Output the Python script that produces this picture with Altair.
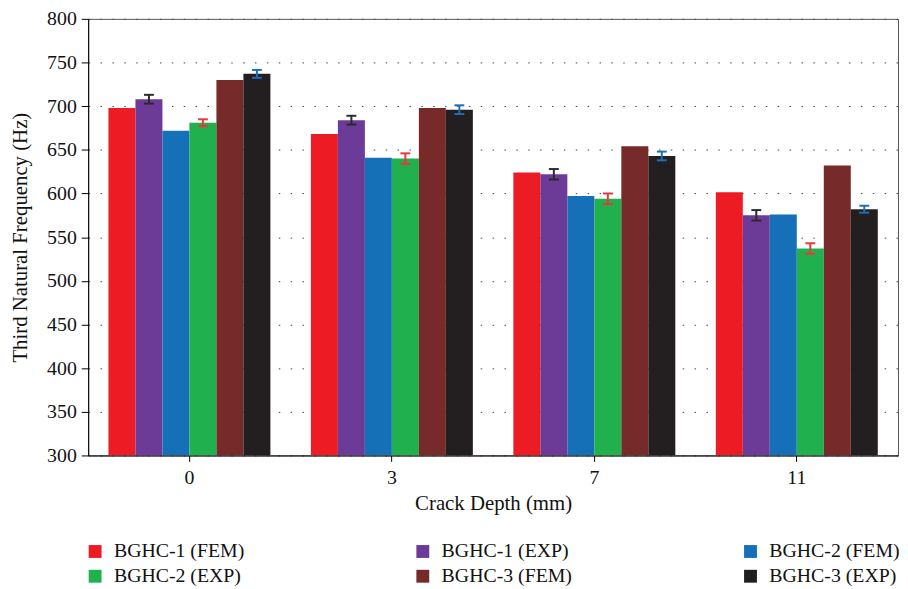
import altair as alt
import pandas as pd

depths = ["0", "3", "7", "11"]
series = ["BGHC-1 (FEM)", "BGHC-1 (EXP)", "BGHC-2 (FEM)",
          "BGHC-2 (EXP)", "BGHC-3 (FEM)", "BGHC-3 (EXP)"]
colors = ["#ed1c24", "#6c3a97", "#1570b8", "#20b14e", "#772a2a", "#231f20"]

bghc1_fem = [698, 668, 624, 601.5]
bghc1_exp = [708, 684, 622, 575]
bghc2_fem = [672, 641, 597, 576]
bghc2_exp = [681, 640, 594, 537]
bghc3_fem = [730, 698, 654, 632]
bghc3_exp = [737, 696, 643, 582]

bghc1_exp_err = [5, 5, 6, 6]
bghc2_exp_err = [4, 6, 6, 6]
bghc3_exp_err = [4.5, 5, 5, 4]
err_colors = ["#2b2b2b", "#e8383d", "#1c6fb8"]

values = [bghc1_fem, bghc1_exp, bghc2_fem, bghc2_exp, bghc3_fem, bghc3_exp]
rows = []
for s, vals in zip(series, values):
    for d, v in zip(depths, vals):
        rows.append({"depth": d, "series": s, "freq": v, "base": 300})
df = pd.DataFrame(rows)

err_series = ["BGHC-1 (EXP)", "BGHC-2 (EXP)", "BGHC-3 (EXP)"]
err_vals = [bghc1_exp, bghc2_exp, bghc3_exp]
err_errs = [bghc1_exp_err, bghc2_exp_err, bghc3_exp_err]
erows = []
for s, vals, errs, c in zip(err_series, err_vals, err_errs, err_colors):
    for d, v, e in zip(depths, vals, errs):
        erows.append({"depth": d, "series": s, "lo": v - e, "hi": v + e, "ecol": c})
edf = pd.DataFrame(erows)

FONT = "Liberation Serif"
FS = 20
TFS = 21

x_enc = alt.X("depth:N", sort=depths,
              scale=alt.Scale(paddingInner=0.2, paddingOuter=0.1),
              axis=alt.Axis(title="Crack Depth (mm)", labelAngle=0, tickSize=6,
                            labelPadding=6, titlePadding=6,
                            domainColor="#000", tickColor="#000", grid=False))
xoff = alt.XOffset("series:N", sort=series,
                   scale=alt.Scale(paddingInner=0, paddingOuter=0))
y_scale = alt.Scale(domain=[300, 800], zero=False, nice=False)

bars = alt.Chart(df).mark_bar(opacity=1, fillOpacity=1, clip=True).encode(
    x=x_enc,
    xOffset=xoff,
    y=alt.Y("freq:Q", scale=y_scale,
            axis=alt.Axis(title="Third Natural Frequency (Hz)",
                          values=list(range(300, 801, 50)),
                          tickSize=7, labelPadding=5, titlePadding=16,
                          domainColor="#000", tickColor="#000",
                          grid=True, gridDash=[1.5, 10.5], gridColor="#444",
                          gridWidth=1)),
    y2="base:Q",
    color=alt.Color("series:N", sort=series,
                    scale=alt.Scale(domain=series, range=colors),
                    legend=alt.Legend(title=None, orient="none", legendX=-3, legendY=528,
                                      direction="horizontal", columns=3,
                                      gridAlign="all", columnPadding=170,
                                      rowPadding=5, symbolType="square",
                                      symbolSize=169, symbolStrokeWidth=0,
                                      symbolOpacity=1,
                                      labelOffset=9,
                                      labelFont=FONT, labelFontSize=20,
                                      labelColor="#111", labelLimit=300)),
)

rules = alt.Chart(edf).mark_rule(strokeWidth=2, opacity=1).encode(
    x=alt.X("depth:N", sort=depths),
    xOffset=alt.XOffset("series:N", sort=series),
    y=alt.Y("lo:Q", scale=y_scale),
    y2="hi:Q",
    color=alt.Color("ecol:N", scale=None),
)
caps_hi = alt.Chart(edf).mark_tick(size=10, thickness=2, orient="horizontal", opacity=1).encode(
    x=alt.X("depth:N", sort=depths),
    xOffset=alt.XOffset("series:N", sort=series),
    y=alt.Y("hi:Q", scale=y_scale),
    color=alt.Color("ecol:N", scale=None),
)
caps_lo = alt.Chart(edf).mark_tick(size=10, thickness=2, orient="horizontal", opacity=1).encode(
    x=alt.X("depth:N", sort=depths),
    xOffset=alt.XOffset("series:N", sort=series),
    y=alt.Y("lo:Q", scale=y_scale),
    color=alt.Color("ecol:N", scale=None),
)

chart = alt.layer(bars, rules, caps_hi, caps_lo).properties(
    width=818, height=441,
    autosize=alt.AutoSizeParams(type="none"),
    padding={"left": 81, "top": 8, "right": 2, "bottom": 140},
).configure_view(
    stroke="#555", strokeWidth=1
).configure_axis(
    labelFont=FONT, titleFont=FONT, labelFontSize=FS, titleFontSize=TFS,
    titleFontWeight="normal", labelColor="#111", titleColor="#111",
)

chart.save("out.html", embed_options={"renderer": "svg", "actions": False})
